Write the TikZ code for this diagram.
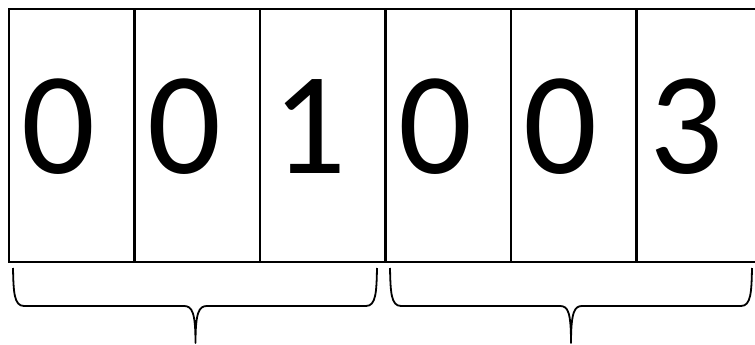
\documentclass[tikz,border=0pt]{standalone}
\usepackage{fontspec}
\setmainfont{Carlito}
\usetikzlibrary{calc}
\begin{document}
\begin{tikzpicture}[x=1pt,y=-1pt,
  cellbox/.style={draw=black,line width=2.6pt,minimum width=125.5pt,minimum height=253pt,inner sep=0pt,outer sep=0pt},
  digit/.style={font=\fontsize{146}{146}\selectfont,anchor=base,inner sep=0pt},
  bracepath/.style={draw=black,line width=1.8pt,line join=round}]
\useasboundingbox (0,0) rectangle (755,345);
\foreach \i in {1,...,6} {
  \node[cellbox] (b\i) at ({9+125.5*(\i-0.5)},135.5) {};
}
\foreach \i/\d in {1/0,2/0,3/1,4/0,5/0,6/3} {
  \node[digit] (d\i) at ($(b\i.center)+(-13,37.5)$) {\d};
}
% braces
\draw[bracepath] (13,268) .. controls (13.5,292) and (14,306) .. (24,306) -- (184,306)
  .. controls (192,306) and (195.5,312) .. (195.5,343)
  .. controls (195.5,312) and (199,306) .. (207,306) -- (366,306)
  .. controls (376,306) and (376.5,292) .. (377,268);
\draw[bracepath] (390,268) .. controls (390.5,292) and (391,306) .. (401,306) -- (560,306)
  .. controls (568,306) and (571,312) .. (571,343)
  .. controls (571,312) and (574.5,306) .. (582,306) -- (741,306)
  .. controls (751,306) and (751.5,292) .. (752,268);
\end{tikzpicture}
\end{document}
